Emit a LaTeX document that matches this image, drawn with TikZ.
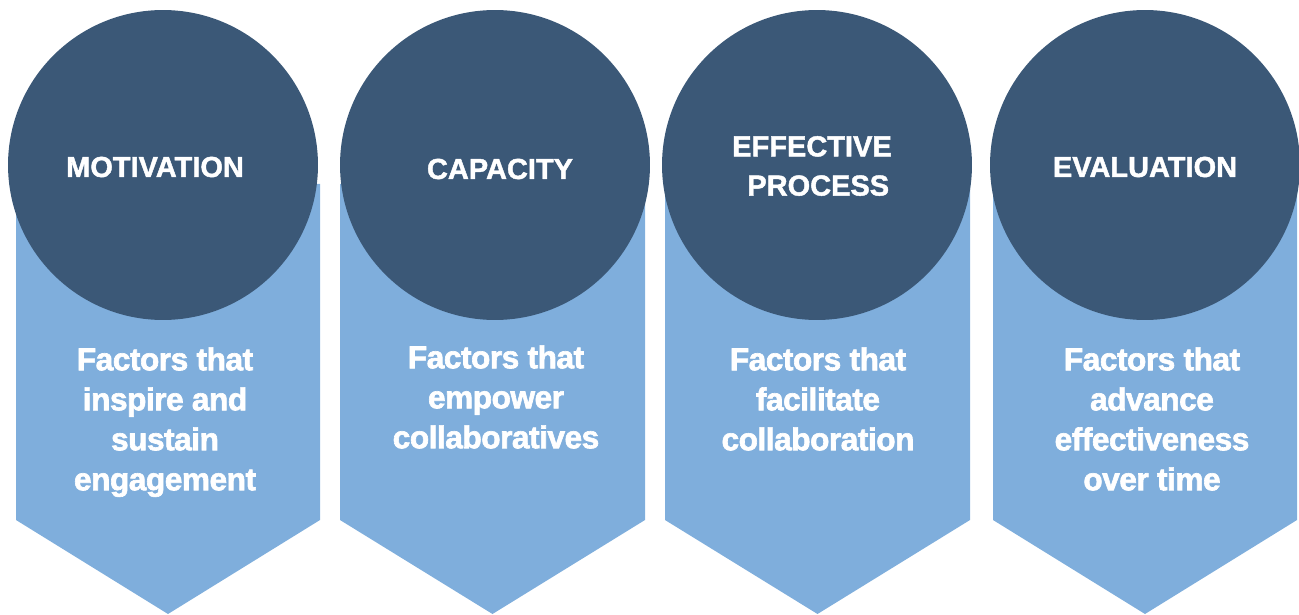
\documentclass[tikz,border=0pt]{standalone}
\usepackage{fontspec}
\setmainfont{Liberation Sans}
\newfontfamily\heavyfont{Liberation Sans Bold}[FakeBold=2,LetterSpace=-1.5]
\newfontfamily\headfont{Liberation Sans Bold}[FakeBold=1.5]
\usetikzlibrary{shapes,backgrounds,calc}
\definecolor{darkblue}{HTML}{3B5877}
\definecolor{lightblue}{HTML}{7FAEDC}

\begin{document}
\begin{tikzpicture}[x=0.02cm,y=-0.02cm,
        disc/.style={circle,fill=darkblue,minimum size=6.2cm,inner sep=0pt},
        head/.style={text=white,align=center,inner sep=0pt,font=\headfont\fontsize{16.5}{22.3}\selectfont},
        body/.style={text=white,align=center,inner sep=0pt,anchor=north,font=\heavyfont\fontsize{18}{22.76}\selectfont}]
        \useasboundingbox (0,0) rectangle (1299,615);
        \fill[lightblue] (16,184) -- (320,184) -- (320,520) -- (168,614) -- (16,520) -- cycle;
        \fill[lightblue] (340,184) -- (645,184) -- (645,520) -- (492.5,614) -- (340,520) -- cycle;
        \fill[lightblue] (665,184) -- (970,184) -- (970,520) -- (817.5,614) -- (665,520) -- cycle;
        \fill[lightblue] (993,184) -- (1297,184) -- (1297,520) -- (1145,614) -- (993,520) -- cycle;
        \node[disc] (c1) at (163,165){};
        \node[disc] (c2) at (495,165){};
        \node[disc] (c3) at (817,165){};
        \node[disc] (c4) at (1145,165){};
        \node[head] (h1) at (155,167){MOTIVATION};
        \node[head] (h2) at (500,169){CAPACITY};
        \node[head] (h3) at (812,166){EFFECTIVE\\\hspace*{0.25cm}PROCESS};
        \node[head] (h4) at (1145,167){EVALUATION};
        \node[body] (b1) at (165,347){Factors that\\inspire and\\sustain\\engagement};
        \node[body] (b2) at (496,345){Factors that\\empower\\collaboratives};
        \node[body] (b3) at (818,347){Factors that\\facilitate\\collaboration};
        \node[body] (b4) at (1152,347){Factors that\\advance\\effectiveness\\over time};
    \end{tikzpicture}
\end{document}
